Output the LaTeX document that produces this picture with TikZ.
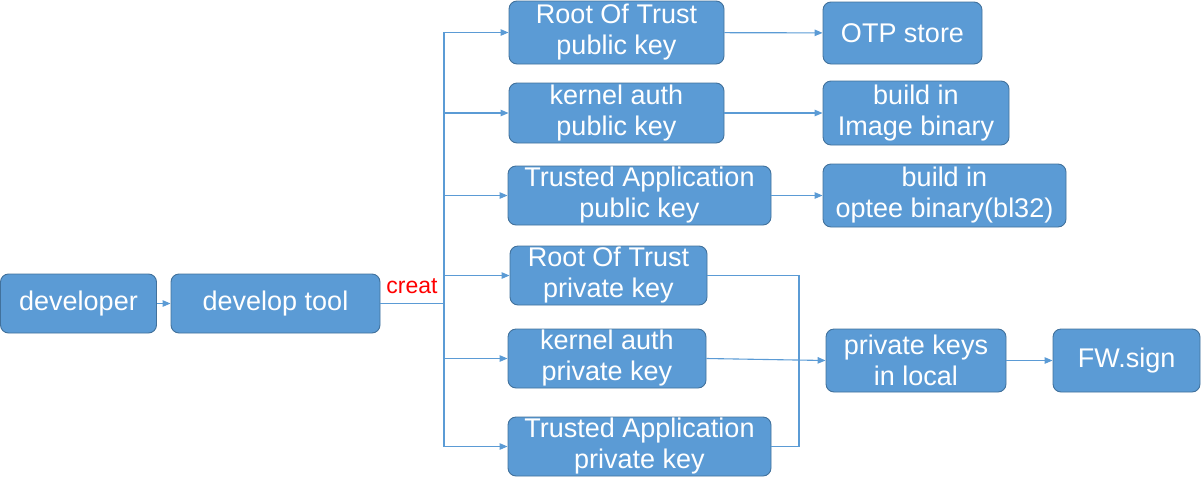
\documentclass[tikz,border=0pt]{standalone}
\usepackage{fontspec}
\setmainfont{Liberation Sans}
\usetikzlibrary{arrows.meta}
\definecolor{boxfill}{HTML}{5B9BD5}
\definecolor{boxedge}{HTML}{41719C}
\definecolor{linec}{HTML}{5B9BD5}
\definecolor{labred}{HTML}{FF0000}
\tikzset{
  box/.style={draw=boxedge, line width=0.9pt, fill=boxfill, rounded corners=8pt,
    text=white, align=center, inner sep=0pt,
    font=\fontsize{27}{31}\selectfont},
  conn/.style={draw=linec, line width=1.1pt},
  arr/.style={conn, -{Triangle[length=8pt,width=6.5pt]}},
}
\newcommand{\bx}[5]{\node[box, minimum width=#3pt, minimum height=#4pt] (#1) at (#2) {#5};}
\begin{document}
\begin{tikzpicture}[x=1pt,y=-1pt]
\useasboundingbox (0,0) rectangle (1201,477);
\bx{dev}{78.5,303.5}{156}{59}{developer}
\bx{tool}{275.5,303.5}{209}{59}{develop tool}
\bx{rotpub}{616.5,32.5}{215}{63}{Root Of Trust\\public key}
\bx{kapub}{616.5,113}{215}{60}{kernel auth\\public key}
\bx{tapub}{639.5,195.5}{263}{59}{Trusted Application\\public key}
\bx{rotpriv}{608.5,275.5}{197}{59}{Root Of Trust\\private key}
\bx{kapriv}{607,358.5}{198}{59}{kernel auth\\private key}
\bx{tapriv}{639.5,446.5}{263}{59}{Trusted Application\\private key}
\bx{otp}{902.5,33}{159}{62}{OTP store}
\bx{img}{916,113}{186}{64}{build in\\Image binary}
\bx{optee}{944.5,195.5}{243}{63}{build in\\optee binary(bl32)}
\bx{pkl}{916,360.5}{180}{63}{private keys\\in local}
\bx{fw}{1126.5,360.5}{147}{63}{FW.sign}
\coordinate (jn) at (444,303.5);
\coordinate (mg) at (799,275.5);
\draw[arr] (dev) -- (tool);
\draw[conn] (tool.east) -- (jn);
\node[anchor=base, text=labred, font=\fontsize{23}{26}\selectfont, inner sep=0pt] (creat) at (412,293) {creat};
\foreach \n in {rotpub,kapub,tapub,rotpriv,kapriv,tapriv}{
  \draw[arr] (jn) |- (\n.west);
}
\draw[arr] (rotpub) -- (otp);
\draw[arr] (kapub) -- (img);
\draw[arr] (tapub) -- (optee);
\draw[conn] (rotpriv.east) -- (mg) |- (tapriv.east);
\draw[arr] (kapriv.east) -- (pkl.west);
\draw[arr] (pkl) -- (fw);
\end{tikzpicture}
\end{document}
